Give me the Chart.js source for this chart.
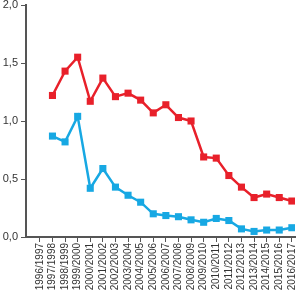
<!DOCTYPE html>
<html>
<head>
<meta charset="utf-8">
<script src="https://cdn.jsdelivr.net/npm/chart.js@4/dist/chart.umd.min.js"></script>
<style>
  html, body { margin: 0; padding: 0; background: #fff; }
  canvas { display: block; }
</style>
</head>
<body>
<canvas id="canvas" width="300" height="291"></canvas>
<script>
// school years on the x axis
const seasons = [
  '1996/1997', '1997/1998', '1998/1999', '1999/2000', '2000/2001', '2001/2002',
  '2002/2003', '2003/2004', '2004/2005', '2005/2006', '2006/2007', '2007/2008',
  '2008/2009', '2009/2010', '2010/2011', '2011/2012', '2012/2013', '2013/2014',
  '2014/2015', '2015/2016', '2016/2017'
]
// red series (no value for the first season)
const redValues = [
  null, 1.22, 1.43, 1.55, 1.17, 1.37, 1.21, 1.24, 1.18, 1.07, 1.14,
  1.03, 1.00, 0.69, 0.68, 0.53, 0.43, 0.34, 0.37, 0.34, 0.31
]
// blue series
const blueValues = [
  null, 0.87, 0.82, 1.04, 0.42, 0.59, 0.43, 0.36, 0.30, 0.20, 0.185,
  0.175, 0.148, 0.127, 0.16, 0.142, 0.07, 0.048, 0.06, 0.06, 0.08
]
const yTicks = [0, 0.5, 1.0, 1.5, 2.0]

const toPoints = values => values
  .map((v, i) => ({ x: i, y: v }))
  .filter(p => p.y !== null)

const axisColor = '#555555'
const textColor = '#333333'

const series = (data, color) => ({
  data: toPoints(data),
  borderColor: color,
  backgroundColor: color,
  borderWidth: 2.5,
  pointStyle: 'rect',
  pointRadius: 5,
  pointHoverRadius: 5,
  pointBorderWidth: 0,
  tension: 0
})

new Chart(document.getElementById('canvas'), {
  type: 'line',
  data: {
    datasets: [
      series(redValues, '#e8202a'),
      series(blueValues, '#17a8e3')
    ]
  },
  options: {
    responsive: false,
    animation: false,
    devicePixelRatio: 1,
    layout: { padding: { top: 3, right: 3, left: 0, bottom: 0 } },
    plugins: { legend: { display: false }, tooltip: { enabled: false } },
    scales: {
      x: {
        type: 'linear',
        min: -1.1,
        max: 20.25,
        afterBuildTicks: scale => {
          scale.ticks = seasons.map((s, i) => ({ value: i }))
        },
        afterFit: scale => {
          scale.height = 54
          scale.paddingLeft = 0
          scale.paddingRight = 0
        },
        ticks: {
          autoSkip: false,
          maxRotation: 90,
          minRotation: 90,
          padding: 1,
          color: textColor,
          font: { family: 'Liberation Sans, Arial, sans-serif', size: 10 },
          callback: v => seasons[v]
        },
        grid: { drawOnChartArea: false, drawTicks: true, tickLength: 5, color: axisColor, lineWidth: 1 },
        border: { display: true, color: axisColor, width: 2 }
      },
      y: {
        min: 0,
        max: 2,
        afterBuildTicks: scale => {
          scale.ticks = yTicks.map(v => ({ value: v }))
        },
        afterFit: scale => {
          scale.width = 26
          scale.paddingTop = 0
          scale.paddingBottom = 0
        },
        ticks: {
          padding: 3,
          color: textColor,
          font: { family: 'Liberation Sans, Arial, sans-serif', size: 11 },
          callback: v => v.toFixed(1).replace('.', ',')
        },
        grid: { drawOnChartArea: false, drawTicks: true, tickLength: 5, color: axisColor, lineWidth: 1 },
        border: { display: true, color: axisColor, width: 2 }
      }
    }
  }
})
</script>
</body>
</html>
